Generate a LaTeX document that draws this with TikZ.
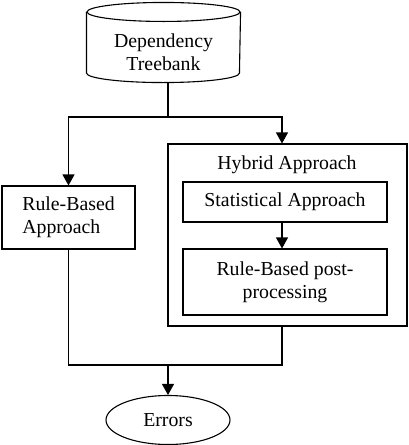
\documentclass[tikz,border=0pt]{standalone}
\usepackage{fontspec}
\setmainfont{Liberation Serif}
\usetikzlibrary{arrows.meta,shapes.geometric}

\begin{document}
\begin{tikzpicture}[x=1pt,y=1pt,line width=1.1pt,
        every node/.style={font=\fontsize{19.8}{23}\selectfont},
        box/.style={draw,inner sep=0pt},
        flow/.style={-{Triangle[length=11pt,width=12pt]}}]
        \useasboundingbox (0,0) rectangle (409,-445);
        % treebank (cylinder drawn round the node)
        \node[inner sep=0pt,minimum width=153pt,minimum height=60pt,align=center]
            (tb) at (163.5,-52) {Dependency\\Treebank};
        \draw ([yshift=9.5pt]tb.north) ellipse [x radius=76.5pt, y radius=9.5pt];
        \draw ([yshift=9.5pt]tb.north west) -- ([yshift=9.5pt]tb.south west)
            arc[start angle=180, end angle=360, x radius=76.5pt, y radius=9.5pt]
            -- ([yshift=9.5pt]tb.north east);
        % the two approaches
        \node[box,minimum width=133pt,minimum height=63pt,align=left]
            (rb) at (68.5,-217.5) {Rule-Based\\Approach};
        \node[box,minimum width=239pt,minimum height=182pt] (hy) at (287.5,-235) {};
        \node (hylabel) at (287,-165) {Hybrid Approach};
        \node[box,minimum width=204pt,minimum height=40pt] (st) at (285,-202) {Statistical Approach};
        \node[box,minimum width=204pt,minimum height=66pt,align=center]
            (pp) at (285,-282) {Rule-Based post-\\processing};
        \node[draw,ellipse,inner sep=0pt,minimum width=124pt,minimum height=49pt]
            (err) at (168,-420) {Errors};
        \coordinate (split) at (168,-117);
        \coordinate (col) at (282,-117);
        \coordinate (merge) at (168,-365);
        % connectors
        \draw (split |- tb.south) -- (split);
        \draw[flow] (split) -| (rb.north);
        \draw[flow] (split) -- (col) -- (col |- hy.north);
        \draw[flow] (col |- st.south) -- (col |- pp.north);
        \draw (rb.south) |- (merge);
        \draw (col |- hy.south) |- (merge);
        \draw[flow] (merge) -- (err.north);
    \end{tikzpicture}
\end{document}
